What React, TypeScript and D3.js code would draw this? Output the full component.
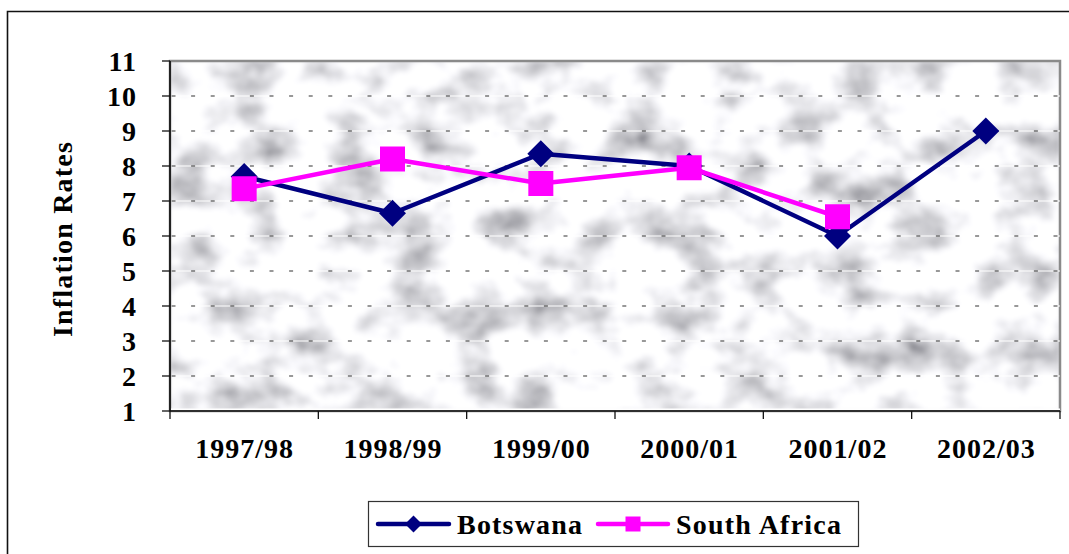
import React from "react";
import * as d3 from "d3";

const categories = ["1997/98", "1998/99", "1999/00", "2000/01", "2001/02", "2002/03"];
const botswana: (number | null)[] = [7.7, 6.65, 8.35, 8.0, 6.0, 9.0];
const southAfrica: (number | null)[] = [7.35, 8.2, 7.5, 7.95, 6.55, null];
const yTicks = [1, 2, 3, 4, 5, 6, 7, 8, 9, 10, 11];
const seriesNames = ["Botswana", "South Africa"];
const yTitle = "Inflation Rates";

const W = 1069;
const H = 554;
const plot = { left: 170, right: 1060, top: 61, bottom: 411 };
const FONT = "'Liberation Serif', 'Times New Roman', serif";
const NAVY = "#000080";
const MAGENTA = "#FF00FF";

export default function App() {
  const x = d3.scaleBand<string>().domain(categories).range([plot.left, plot.right]);
  const y = d3.scaleLinear().domain([1, 11]).range([plot.bottom, plot.top]);
  const cx = (c: string) => (x(c) as number) + x.bandwidth() / 2;

  const line = d3
    .line<{ c: string; v: number | null }>()
    .defined((d) => d.v != null)
    .x((d) => cx(d.c))
    .y((d) => y(d.v as number));

  const bData = categories.map((c, i) => ({ c, v: botswana[i] }));
  const sData = categories.map((c, i) => ({ c, v: southAfrica[i] }));

  const diamond = (px: number, py: number, r: number) =>
    `M${px},${py - r}L${px + r},${py}L${px},${py + r}L${px - r},${py}Z`;

  const boundaries = [...categories.map((c) => x(c) as number), plot.right];

  return (
    <svg
      width={W}
      height={H}
      style={{ position: "absolute", left: 0, top: 0, background: "#fff" }}
      fontFamily={FONT}
    >
      <defs>
        <filter id="marble" x="0" y="0" width="100%" height="100%" filterUnits="objectBoundingBox">
          <feTurbulence type="fractalNoise" baseFrequency="0.018 0.024" numOctaves={4} seed={23} result="n" />
          <feColorMatrix
            in="n"
            type="matrix"
            values="1.7 0 0 0 0.08  1.7 0 0 0 0.08  1.7 0 0 0 0.11  0 0 0 0 1"
            result="c"
          />
          <feGaussianBlur in="c" stdDeviation="2" />
        </filter>
        <clipPath id="plotClip">
          <rect x={plot.left} y={plot.top} width={plot.right - plot.left} height={plot.bottom - plot.top} />
        </clipPath>
      </defs>

      {/* outer chart border (extends off right/bottom) */}
      <path d={`M7.5,${H + 2}V11.5H${W + 2}`} fill="none" stroke="#111" strokeWidth={1.6} />

      {/* plot background */}
      <rect
        x={plot.left}
        y={plot.top}
        width={plot.right - plot.left}
        height={plot.bottom - plot.top}
        fill="#e6e6ea"
      />
      <rect
        x={plot.left}
        y={plot.top}
        width={plot.right - plot.left}
        height={plot.bottom - plot.top}
        filter="url(#marble)"
      />
      <rect
        x={plot.left}
        y={plot.top}
        width={plot.right - plot.left}
        height={plot.bottom - plot.top}
        fill="none"
        stroke="#8a8a8a"
        strokeWidth={2.5}
      />

      {/* gridlines */}
      {yTicks
        .filter((t) => t > 1 && t < 11)
        .map((t) => (
          <g key={`g${t}`}>
            <line x1={plot.left} x2={plot.right} y1={y(t)} y2={y(t)} stroke="#fff" strokeWidth={1.2} />
            <line
              x1={plot.left + 1.5}
              x2={plot.right}
              y1={y(t)}
              y2={y(t)}
              stroke="#333"
              strokeWidth={1.2}
              strokeDasharray="4,15.6"
            />
          </g>
        ))}
      <line x1={plot.left} x2={plot.right} y1={plot.bottom - 1.8} y2={plot.bottom - 1.8} stroke="#fff" strokeWidth={1.5} />

      {/* axes */}
      <line x1={plot.left} x2={plot.left} y1={plot.top} y2={plot.bottom} stroke="#222" strokeWidth={2} />
      <line x1={plot.left} x2={plot.right} y1={plot.bottom} y2={plot.bottom} stroke="#111" strokeWidth={1.5} />
      {yTicks.map((t) => (
        <line key={`yt${t}`} x1={plot.left - 8} x2={plot.left} y1={y(t)} y2={y(t)} stroke="#111" strokeWidth={1.3} />
      ))}
      {boundaries.map((b, i) => (
        <line key={`xt${i}`} x1={b} x2={b} y1={plot.bottom} y2={plot.bottom + 8} stroke="#111" strokeWidth={1.3} />
      ))}

      {/* tick labels */}
      {yTicks.map((t) => (
        <text
          key={`yl${t}`}
          x={137}
          y={y(t) + 9.5}
          textAnchor="end"
          fontSize={28}
          fontWeight="bold"
          letterSpacing={1}
        >
          {t}
        </text>
      ))}
      {categories.map((c) => (
        <text
          key={`xl${c}`}
          x={cx(c) + 0.5}
          y={458}
          textAnchor="middle"
          fontSize={28}
          fontWeight="bold"
          letterSpacing={1}
        >
          {c}
        </text>
      ))}

      {/* y title */}
      <text
        transform={`translate(72,${239}) rotate(-90)`}
        textAnchor="middle"
        fontSize={28}
        fontWeight="bold"
        letterSpacing={1.2}
      >
        {yTitle}
      </text>

      {/* series */}
      <g clipPath="url(#plotClip)">
        <path d={line(bData) || ""} fill="none" stroke={NAVY} strokeWidth={4.5} strokeLinejoin="round" />
        {bData
          .filter((d) => d.v != null)
          .map((d) => (
            <path key={`bd${d.c}`} d={diamond(cx(d.c), y(d.v as number), 13.5)} fill={NAVY} />
          ))}
        <path d={line(sData) || ""} fill="none" stroke={MAGENTA} strokeWidth={4.5} strokeLinejoin="round" />
        {sData
          .filter((d) => d.v != null)
          .map((d) => (
            <rect
              key={`sq${d.c}`}
              x={cx(d.c) - 12.5}
              y={y(d.v as number) - 12.5}
              width={25}
              height={25}
              fill={MAGENTA}
            />
          ))}
      </g>

      {/* legend */}
      <rect x={368.5} y={501.5} width={490} height={45} fill="#fff" stroke="#333" strokeWidth={1.2} />
      <line x1={378} x2={449} y1={524} y2={524} stroke={NAVY} strokeWidth={4.5} strokeLinecap="round" />
      <path d={diamond(413.5, 524, 8.5)} fill={NAVY} />
      <text x={457} y={533.5} fontSize={28} fontWeight="bold" letterSpacing={1.2}>
        {seriesNames[0]}
      </text>
      <line x1={598} x2={668} y1={524} y2={524} stroke={MAGENTA} strokeWidth={4.5} strokeLinecap="round" />
      <rect x={625.5} y={516.5} width={15} height={15} fill={MAGENTA} />
      <text x={676} y={533.5} fontSize={28} fontWeight="bold" letterSpacing={1.2}>
        {seriesNames[1]}
      </text>
    </svg>
  );
}
